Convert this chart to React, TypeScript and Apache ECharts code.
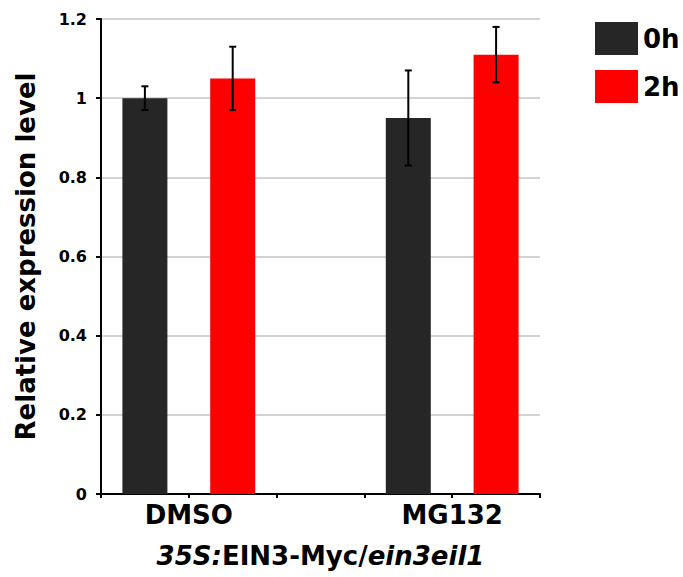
import React, { useEffect, useRef } from "react";
import * as echarts from "echarts";

const groupLabels = ["DMSO", "MG132"];
const groupLabelPos = [1, 4];
const seriesNames = ["0h", "2h"];
const xPos0h = [0.5, 3.5];
const xPos2h = [1.5, 4.5];
const mean0h = [1.0, 0.95];
const mean2h = [1.05, 1.11];
const err0h = [0.03, 0.12];
const err2h = [0.08, 0.07];
const yTicks = [0, 0.2, 0.4, 0.6, 0.8, 1, 1.2];

const FONT = "DejaVu Sans";

export default function App() {
  const ref = useRef<HTMLDivElement>(null);
  useEffect(() => {
    document.body.style.margin = "0";
    const chart = echarts.init(ref.current!, null, { renderer: "svg" });
    const errData = [
      ...xPos0h.map((x, i) => [x, mean0h[i] - err0h[i], mean0h[i] + err0h[i]]),
      ...xPos2h.map((x, i) => [x, mean2h[i] - err2h[i], mean2h[i] + err2h[i]]),
    ];
    chart.setOption({
      animation: false,
      grid: { left: 101, right: 143, top: 19, bottom: 83 },
      legend: {
        orient: "vertical",
        left: 590,
        top: 17,
        itemWidth: 43,
        itemHeight: 33,
        itemGap: 15,
        data: seriesNames,
        icon: "rect",
        textStyle: { fontFamily: FONT, fontWeight: "bold", fontSize: 26, color: "#000", padding: [0, 0, 0, 0] },
      },
      xAxis: {
        type: "value",
        min: 0,
        max: 5,
        interval: 1,
        splitLine: { show: false },
        axisLine: { lineStyle: { color: "#000", width: 2 } },
        axisTick: { show: true, length: 4, lineStyle: { color: "#000", width: 2 } },
        axisLabel: {
          margin: 8,
          fontFamily: FONT,
          fontWeight: "bold",
          fontSize: 26,
          color: "#000",
          formatter: (v: number) => {
            const idx = groupLabelPos.indexOf(v);
            return idx >= 0 ? groupLabels[idx] : "";
          },
        },
        name: "{i|35S:}EIN3-Myc/{i|ein3eil1}",
        nameLocation: "middle",
        nameGap: 49,
        nameTextStyle: {
          fontFamily: FONT,
          fontWeight: "bold",
          fontSize: 26,
          color: "#000",
          rich: {
            i: { fontFamily: FONT, fontWeight: "bold", fontStyle: "italic", fontSize: 26, color: "#000" },
          },
        },
      },
      yAxis: {
        type: "value",
        min: 0,
        max: 1.2,
        interval: 0.2,
        axisLine: { show: true, lineStyle: { color: "#000", width: 2 } },
        axisTick: { show: true, length: 5, lineStyle: { color: "#000", width: 2 } },
        splitLine: { lineStyle: { color: "#c4c4c4", width: 1.5 } },
        axisLabel: {
          margin: 14,
          fontFamily: FONT,
          fontWeight: "bold",
          fontSize: 16,
          color: "#000",
          formatter: (v: number) => {
            const t = yTicks.find((k) => Math.abs(k - v) < 1e-6);
            return t === undefined ? "" : String(t);
          },
        },
        name: "Relative expression level",
        nameLocation: "middle",
        nameGap: 62,
        nameTextStyle: { fontFamily: FONT, fontWeight: "bold", fontSize: 26, color: "#000" },
      },
      series: [
        {
          name: seriesNames[0],
          type: "bar",
          barWidth: 45,
          barGap: "-100%",
          itemStyle: { color: "#262626" },
          data: xPos0h.map((x, i) => [x, mean0h[i]]),
        },
        {
          name: seriesNames[1],
          type: "bar",
          barWidth: 45,
          barGap: "-100%",
          itemStyle: { color: "#ff0000" },
          data: xPos2h.map((x, i) => [x, mean2h[i]]),
        },
        {
          type: "custom",
          z: 10,
          data: errData,
          renderItem: (params: any, api: any) => {
            const x = api.value(0);
            const lo = api.coord([x, api.value(1)]);
            const hi = api.coord([x, api.value(2)]);
            const hw = 3.5;
            const style = { stroke: "#000", lineWidth: 2 };
            return {
              type: "group",
              children: [
                { type: "line", shape: { x1: lo[0], y1: lo[1], x2: hi[0], y2: hi[1] }, style },
                { type: "line", shape: { x1: lo[0] - hw, y1: lo[1], x2: lo[0] + hw, y2: lo[1] }, style },
                { type: "line", shape: { x1: hi[0] - hw, y1: hi[1], x2: hi[0] + hw, y2: hi[1] }, style },
              ],
            };
          },
        },
      ],
    });
    return () => chart.dispose();
  }, []);
  return <div ref={ref} style={{ width: 683, height: 577 }} />;
}
